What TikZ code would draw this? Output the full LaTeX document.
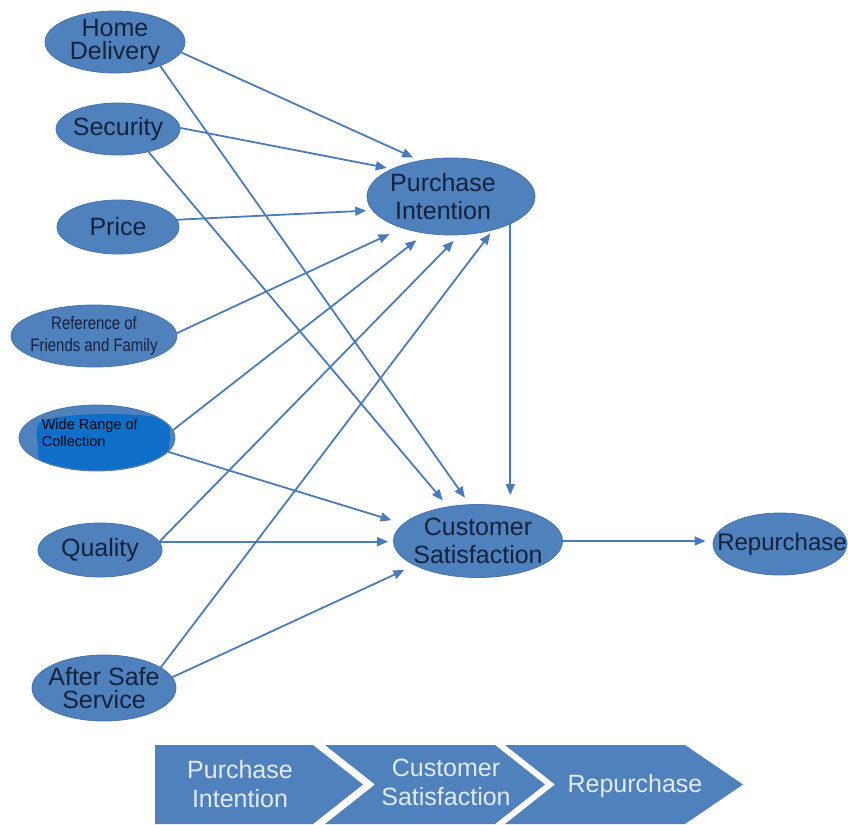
\documentclass[tikz,border=0pt]{standalone}
\usepackage{fontspec}
\usepackage{graphicx}
\setmainfont{Liberation Sans}
\newfontfamily\narrowfont[FakeStretch=0.83]{Liberation Sans}
\usetikzlibrary{shapes.geometric,arrows.meta,calc}
\definecolor{nodeblue}{RGB}{79,129,189}
\definecolor{edgeblue}{RGB}{70,116,174}
\definecolor{linkblue}{RGB}{74,124,188}
\definecolor{txtdark}{RGB}{20,34,60}
\definecolor{paintblue}{RGB}{14,110,200}
\definecolor{chevtext}{RGB}{226,234,246}
\begin{document}
\begin{tikzpicture}[x=1pt,y=-1pt,
  ell/.style={ellipse, fill=nodeblue, draw=edgeblue, line width=0.8pt, inner sep=0pt},
  lab/.style={text=txtdark, font=\fontsize{25}{23}\selectfont, align=center, inner sep=0pt},
  labwide/.style={text=txtdark, font=\fontsize{25}{28.5}\selectfont, align=center, inner sep=0pt},
  link/.style={draw=linkblue, line width=1.8pt, -{Triangle[length=11pt,width=9pt]}},
  chev/.style={fill=nodeblue},
  chevlab/.style={text=chevtext, font=\fontsize{25}{29}\selectfont, align=center, inner sep=0pt}]

\useasboundingbox (0,0) rectangle (848,824);

% source ellipses
\node[ell, minimum width=140pt, minimum height=62pt] (hd) at (115,42) {};
\node[lab] (hdt) at (hd.center) {Home\\Delivery};

\node[ell, minimum width=124pt, minimum height=52pt] (sec) at (118,129) {};
\node[lab] (sect) at (sec.center) {Security};

\node[ell, minimum width=122pt, minimum height=54pt] (pr) at (118,227) {};
\node[lab] (prt) at (pr.center) {Price};

\node[ell, minimum width=166pt, minimum height=62pt] (ref) at (94,336) {};
\node[text=txtdark, font=\narrowfont\fontsize{18}{22}\selectfont, align=center, inner sep=0pt] (reft) at (ref.center) {Reference of\\Friends and Family};

\node[ell, minimum width=156pt, minimum height=66pt] (wr) at (97,438) {};
\begin{scope}
  \clip (97,438) ellipse [x radius=77, y radius=32];
  \fill[paintblue] plot[smooth cycle] coordinates {(42,421) (100,414) (163,419) (169,445) (158,466) (100,472) (45,467) (38,446)};
\end{scope}
\node[anchor=west, text=black!85!txtdark, font=\fontsize{14.5}{17}\selectfont, align=left, inner sep=0pt] (wrt) at ([xshift=23pt,yshift=5pt]wr.west) {Wide Range of\\Collection};

\node[ell, minimum width=124pt, minimum height=54pt] (qu) at (100,550) {};
\node[lab] (qut) at (qu.center) {Quality};

\node[ell, minimum width=144pt, minimum height=66pt] (as) at (104,688) {};
\node[lab] (ast) at (as.center) {After Safe\\Service};

% central ellipses
\node[ell, minimum width=168pt, minimum height=77pt] (pi) at (451,196.5) {};
\node[labwide] (pit) at ([xshift=-8pt]pi.center) {Purchase\\Intention};

\node[ell, minimum width=169pt, minimum height=73pt] (cs) at (478,541) {};
\node[labwide] (cst) at (cs.center) {Customer\\Satisfaction};

\node[ell, minimum width=134pt, minimum height=62pt] (rp) at (780,544) {};
\node[text=txtdark, font=\fontsize{24}{24}\selectfont, inner sep=0pt] (rpt) at ([xshift=2pt]rp.center) {Repurchase};

% connectors
\draw[link, shorten >=7pt] (hd.-9) -- (pi.131);
\draw[link, shorten >=8pt] (hd.-28) -- (cs.103);
\draw[link, shorten >=5pt] (sec.1) -- (pi.155);
\draw[link, shorten >=8pt] (sec.-37) -- (cs.131);
\draw[link, shorten >=6pt] (pr.7) -- (pi.190);
\draw[link, shorten >=14pt] (ref.2) -- (pi.213);
\draw[link, shorten >=11pt] (wr.6) -- (pi.235);
\draw[link, shorten >=12pt] (wr.-11) -- (cs.167);
\draw[link, shorten >=8pt] (qu.8) -- (pi.-78);
\draw[link, shorten >=5pt] (qu.8) -- (qu.8 -| cs.west);
\draw[link, shorten >=4pt] (as.20) -- (pi.-39);
\draw[link, shorten >=11pt] (as.9) -- (cs.201);
\draw[link, shorten >=9pt] (pi.-25) -- (pi.-25 |- cs.north);
\draw[link, shorten >=7pt] (cs.east) -- (cs.east -| rp.west);

% bottom chevrons
\fill[chev] (155,745) -- (313,745) -- (363,784.5) -- (313,824) -- (155,824) -- cycle;
\fill[chev] (325,745) -- (495,745) -- (545,784.5) -- (495,824) -- (325,824) -- (375,784.5) -- cycle;
\fill[chev] (505,745) -- (685,745) -- (743,784.5) -- (685,824) -- (505,824) -- (555,784.5) -- cycle;
\node[chevlab] (c1) at (240,784) {Purchase\\Intention};
\node[chevlab] (c2) at (446,782) {Customer\\Satisfaction};
\node[chevlab] (c3) at (635,786) {Repurchase};
\end{tikzpicture}
\end{document}
